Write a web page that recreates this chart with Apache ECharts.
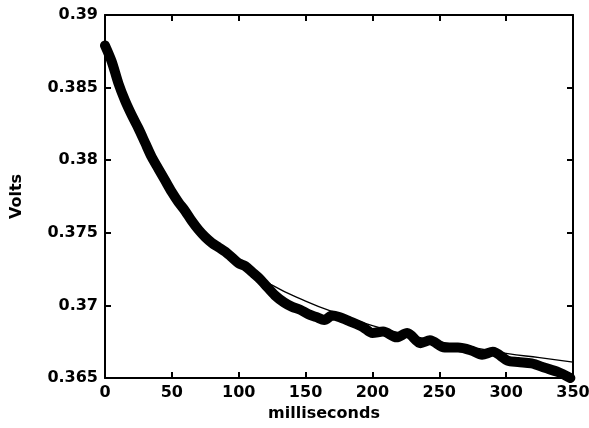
<!DOCTYPE html>
<html>
<head>
<meta charset="utf-8">
<script src="https://cdn.jsdelivr.net/npm/echarts@6/dist/echarts.min.js"></script>
<style>
  html, body { margin: 0; padding: 0; background: #fff; }
  #chart { width: 589px; height: 428px; }
</style>
</head>
<body>
<div id="chart"></div>
<script>
// measured trace (ms, volts)
const traceMs = [0, 5, 10, 15, 20, 25, 30, 35, 40, 45, 50, 55, 60, 65, 70, 75, 80, 85, 90, 95,
  100, 105, 110, 115, 120, 127, 134, 140, 146, 152, 158, 164, 170, 175, 183, 193, 200, 208, 218,
  226, 236, 243, 254, 264, 274, 282, 290, 301, 309, 319, 329, 339, 348]
const traceVolts = [0.3879, 0.3868, 0.3853, 0.3841, 0.3831, 0.3822, 0.3812, 0.3802, 0.3794, 0.3786,
  0.3778, 0.3771, 0.3765, 0.3758, 0.3752, 0.3747, 0.3743, 0.3740, 0.3737, 0.3733,
  0.3729, 0.3727, 0.3723, 0.3719, 0.3714, 0.3707, 0.3702, 0.3699, 0.3697, 0.3694,
  0.3692, 0.3690, 0.3693, 0.3692, 0.3689, 0.3685, 0.3681, 0.3682, 0.3678, 0.3681,
  0.3674, 0.3676, 0.3671, 0.3671, 0.3669, 0.3666, 0.3668, 0.3662, 0.3661, 0.3660,
  0.3657, 0.3654, 0.3650]

// fitted curve (ms, volts)
const fitMs = [0, 25, 50, 75, 100, 125, 150, 175, 200, 225, 250, 275, 300, 325, 350]
const fitVolts = [0.3881, 0.3819, 0.3777, 0.3749, 0.3729, 0.3714, 0.3703, 0.3694, 0.3686,
  0.3680, 0.3675, 0.3671, 0.3667, 0.3664, 0.3661]

const FONT = 'DejaVu Sans'
const lbl = { color: '#000', fontFamily: FONT, fontWeight: 'bold', fontSize: 16 }

function axisBase() {
  return {
    axisLine: { show: true, onZero: false, lineStyle: { color: '#000', width: 2 } },
    axisTick: { show: true, inside: true, length: 6, lineStyle: { color: '#000', width: 2 } },
    splitLine: { show: false }
  }
}

const chart = echarts.init(document.getElementById('chart'))
chart.setOption({
  animation: false,
  grid: { left: 105, right: 16, top: 15, bottom: 50, outerBoundsMode: 'none' },
  xAxis: [
    {
      type: 'value', min: 0, max: 350, interval: 50, position: 'bottom',
      name: 'milliseconds', nameLocation: 'middle', nameGap: 21,
      nameTextStyle: { ...lbl, padding: [0, 30, 0, 0] },
      axisLabel: { ...lbl, margin: 7 },
      ...axisBase()
    },
    {
      type: 'value', min: 0, max: 350, interval: 50, position: 'top',
      axisLabel: { show: false }, ...axisBase()
    }
  ],
  yAxis: [
    {
      type: 'value', min: 0.365, max: 0.39, interval: 0.005, position: 'left',
      name: 'Volts', nameLocation: 'middle', nameGap: 80, nameRotate: 90,
      nameTextStyle: lbl,
      axisLabel: { ...lbl, margin: 7, formatter: v => String(+v.toFixed(3)) },
      ...axisBase()
    },
    {
      type: 'value', min: 0.365, max: 0.39, interval: 0.005, position: 'right',
      axisLabel: { show: false }, ...axisBase()
    }
  ],
  series: [
    {
      type: 'line', xAxisIndex: 0, yAxisIndex: 0,
      data: traceMs.map((t, i) => [t, traceVolts[i]]),
      showSymbol: false, smooth: 0.3, clip: false,
      lineStyle: { color: '#000', width: 10, cap: 'round', join: 'round' },
      z: 2
    },
    {
      type: 'line', xAxisIndex: 0, yAxisIndex: 0,
      data: fitMs.map((t, i) => [t, fitVolts[i]]),
      showSymbol: false, smooth: true,
      lineStyle: { color: '#000', width: 1.3 },
      z: 3
    }
  ]
})
</script>
</body>
</html>
